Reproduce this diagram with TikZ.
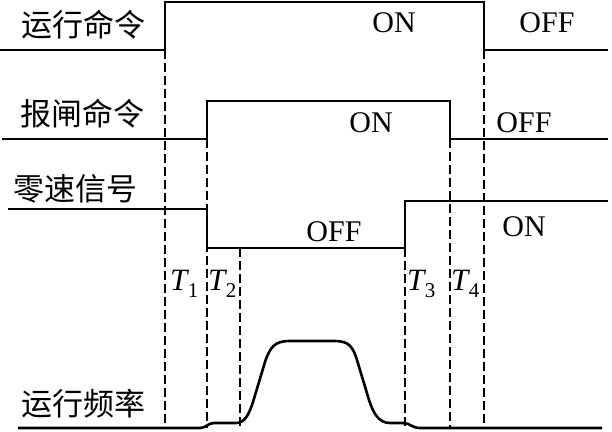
\documentclass[tikz,border=0pt]{standalone}
\usepackage{fontspec}
\setmainfont{Liberation Serif}
\newfontfamily\cjk{Noto Sans CJK SC}
\newcommand{\tlab}[1]{{\itshape T}\kern0.5pt\raisebox{-7pt}{\fontsize{21}{21}\selectfont #1}}
\begin{document}
\begin{tikzpicture}[x=1pt,y=-1pt,
  sig/.style={line width=2.8pt,line join=miter},
  guide/.style={line width=1.1pt,dash pattern=on 9pt off 4pt},
  guideb/.style={line width=1.8pt,dash pattern=on 9pt off 4pt},
  cn/.style={font=\cjk\fontsize{31}{31}\selectfont,inner sep=0pt},
  en/.style={font=\fontsize{30}{30}\selectfont,inner sep=0pt},
  tl/.style={font=\fontsize{31}{31}\selectfont,inner sep=0pt,anchor=base west}]
\useasboundingbox (0,0) rectangle (612,431);
% signals
\draw[sig] (0,50) -- (165,50) -- (165,2) -- (484,2) -- (484,50) -- (608,50);
\draw[sig] (2,139) -- (207,139) -- (207,101) -- (450,101) -- (450,139) -- (608,139);
\draw[sig] (8,209) -- (207,209) -- (207,248) -- (405,248) -- (405,201) -- (608,201);
% guide lines
\draw[guide]  (165,50) -- (165,428);
\draw[guideb] (207,139) -- (207,428);
\draw[guide]  (240,248) -- (240,428);
\draw[guideb] (405,248) -- (405,428);
\draw[guide]  (450,139) -- (450,428);
\draw[guideb] (484,50) -- (484,428);
% frequency
\draw[line width=2.6pt,line join=round]
  (18,428) -- (200,428) .. controls (206,428) and (208,423) .. (214,423)
  -- (236,423) .. controls (245,423) and (249,414) .. (253,402)
  -- (265,362) .. controls (270,347) and (275,341) .. (289,341)
  -- (335,341) .. controls (349,341) and (353,347) .. (357,360)
  -- (369,400) .. controls (373,412) and (378,423) .. (390,423)
  -- (403,423) .. controls (410,423) and (412,428) .. (420,428) -- (602,428);
% labels
\node[cn] (l1) at (83,25) {运行命令};
\node[cn] (l2) at (82,114) {报闸命令};
\node[cn] (l3) at (75,189) {零速信号};
\node[cn] (l4) at (83,404) {运行频率};
\node[en] (on1) at (394,23) {ON};
\node[en] (off1) at (547,23) {OFF};
\node[en] (on2) at (371,123) {ON};
\node[en] (off2) at (524,123) {OFF};
\node[en] (off3) at (334,232) {OFF};
\node[en] (on3) at (524,227) {ON};
\node[tl] (t1) at (170,290) {\tlab{1}};
\node[tl] (t2) at (208,290) {\tlab{2}};
\node[tl] (t3) at (407,290) {\tlab{3}};
\node[tl] (t4) at (451,290) {\tlab{4}};
\end{tikzpicture}
\end{document}
